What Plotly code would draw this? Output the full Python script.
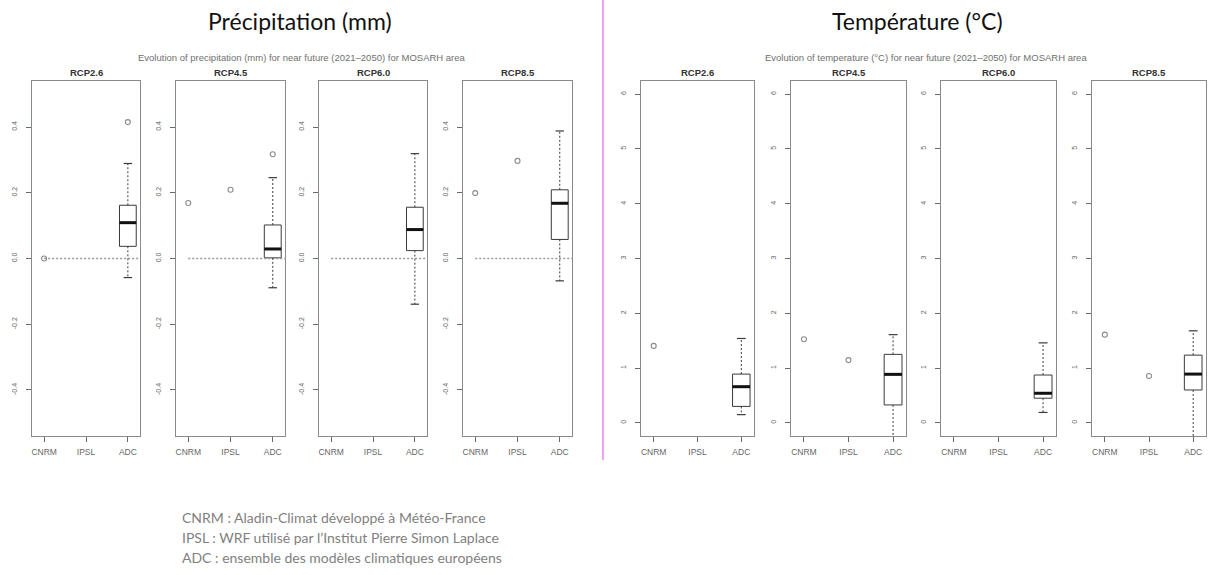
import plotly.graph_objects as go

# ---------------------------------------------------------------- data
models = ["CNRM", "IPSL", "ADC"]
scenarios = ["RCP2.6", "RCP4.5", "RCP6.0", "RCP8.5"]

# Precipitation change (mm), near future 2021-2050
precip_cnrm = [0.0, 0.169, None, 0.199]
precip_ipsl = [None, 0.209, None, 0.297]
precip_adc_low = [-0.058, -0.089, -0.139, -0.068]
precip_adc_q1 = [0.037, 0.002, 0.024, 0.058]
precip_adc_med = [0.109, 0.029, 0.088, 0.168]
precip_adc_q3 = [0.162, 0.102, 0.156, 0.209]
precip_adc_high = [0.289, 0.246, 0.319, 0.388]
precip_adc_out = [[0.415], [0.317], [], []]
precip_ticks = [-0.4, -0.2, 0.0, 0.2, 0.4]
precip_ticktext = ["-0.4", "-0.2", "0.0", "0.2", "0.4"]
precip_ref = 0.0

# Temperature change (°C), near future 2021-2050
temp_cnrm = [1.405, 1.527, None, 1.61]
temp_ipsl = [None, 1.145, None, 0.855]
temp_adc_low = [0.15, -0.35, 0.19, -0.35]
temp_adc_q1 = [0.30, 0.327, 0.45, 0.60]
temp_adc_med = [0.66, 0.885, 0.54, 0.89]
temp_adc_q3 = [0.89, 1.25, 0.873, 1.236]
temp_adc_high = [1.54, 1.61, 1.46, 1.68]
temp_adc_out = [[], [], [], []]
temp_ticks = [0, 1, 2, 3, 4, 5, 6]
temp_ticktext = ["0", "1", "2", "3", "4", "5", "6"]

legend_lines = [
    "CNRM : Aladin-Climat développé à Météo-France",
    "IPSL : WRF utilisé par l’Institut Pierre Simon Laplace",
    "ADC : ensemble des modèles climatiques européens",
]

# ---------------------------------------------------------------- layout
W, H = 1209, 575
panel_px = [(32, 140), (176, 285), (319, 427), (463, 572),
            (641, 754), (791, 906), (941, 1056), (1092, 1206)]
TOP, BOTTOM = 81, 436
BOX_HALF = 0.2
CAP_HALF = 0.1
X_RANGE = [0.71, 3.29]

FRAME = "#8a8a8a"
INK = "#3a3a3a"
PT = "#8c8c8c"

fig = go.Figure()


def add_panel(idx, cnrm, ipsl, low, q1, med, q3, high, outs, ticks, ticktext,
              yrange, ref=None):
    n = idx + 1
    xa = "x" if n == 1 else f"x{n}"
    ya = "y" if n == 1 else f"y{n}"
    pos = {m: i + 1 for i, m in enumerate(models)}
    k = idx % 4

    if ref is not None:
        fig.add_trace(go.Scatter(
            x=[pos["CNRM"], X_RANGE[1] + 1], y=[ref, ref], mode="lines",
            line=dict(color="#9a9a9a", width=1.6, dash="2px,2px"),
            xaxis=xa, yaxis=ya, hoverinfo="skip"))

    # ADC ensemble box (no whiskers; drawn dashed below)
    fig.add_trace(go.Box(
        x=[pos["ADC"]], q1=[q1[k]], median=[med[k]], q3=[q3[k]],
        lowerfence=[q1[k]], upperfence=[q3[k]], width=2 * BOX_HALF,
        whiskerwidth=0, fillcolor="white", line=dict(color=INK, width=1),
        boxpoints=False, xaxis=xa, yaxis=ya, hoverinfo="skip"))
    # dashed whiskers
    for a, b in ((q3[k], high[k]), (q1[k], low[k])):
        fig.add_trace(go.Scatter(
            x=[pos["ADC"], pos["ADC"]], y=[a, b], mode="lines",
            line=dict(color=INK, width=1, dash="2px,2px"),
            xaxis=xa, yaxis=ya, hoverinfo="skip"))
    # whisker caps
    for v in (high[k], low[k]):
        fig.add_trace(go.Scatter(
            x=[pos["ADC"] - CAP_HALF, pos["ADC"] + CAP_HALF], y=[v, v],
            mode="lines", line=dict(color=INK, width=1.2),
            xaxis=xa, yaxis=ya, hoverinfo="skip"))
    # thick median
    fig.add_trace(go.Scatter(
        x=[pos["ADC"] - BOX_HALF, pos["ADC"] + BOX_HALF], y=[med[k], med[k]],
        mode="lines", line=dict(color="#111111", width=3),
        xaxis=xa, yaxis=ya, hoverinfo="skip"))
    # outliers and single-model values
    px_, py_ = [], []
    for v in outs[k]:
        px_.append(pos["ADC"]); py_.append(v)
    if cnrm[k] is not None:
        px_.append(pos["CNRM"]); py_.append(cnrm[k])
    if ipsl[k] is not None:
        px_.append(pos["IPSL"]); py_.append(ipsl[k])
    if px_:
        fig.add_trace(go.Scatter(
            x=px_, y=py_, mode="markers",
            marker=dict(symbol="circle-open", size=5, color=PT,
                        line=dict(width=1.1, color=PT)),
            xaxis=xa, yaxis=ya, hoverinfo="skip", cliponaxis=False))

    x0, x1 = panel_px[idx]
    axis_common = dict(showline=True, linecolor=FRAME, linewidth=1.3,
                       mirror=True, showgrid=False, zeroline=False,
                       ticks="outside", tickcolor="#6a6a6a", ticklen=5)
    fig.update_layout({
        ("xaxis" if n == 1 else f"xaxis{n}"): dict(
            domain=[x0 / W, x1 / W], anchor=ya, range=X_RANGE,
            tickvals=[pos[m] for m in models], ticktext=models,
            ticklabelstandoff=3,
            tickfont=dict(family="Liberation Sans", size=8.5, color="#666666"),
            **axis_common),
        ("yaxis" if n == 1 else f"yaxis{n}"): dict(
            domain=[1 - BOTTOM / H, 1 - TOP / H], anchor=xa, range=yrange,
            tickvals=ticks, ticktext=ticktext, tickangle=-90,
            ticklabelstandoff=6,
            tickfont=dict(family="Liberation Sans", size=7, color="#666666"),
            **axis_common),
    })
    fig.add_annotation(
        x=(x0 + x1) / 2 / W, y=1 - 73 / H, xref="paper", yref="paper",
        xanchor="center", yanchor="middle",
        text=f"<b>{scenarios[k]}</b>", showarrow=False,
        font=dict(family="Liberation Sans", size=9.5, color="#333333"))


for i in range(4):
    add_panel(i, precip_cnrm, precip_ipsl, precip_adc_low, precip_adc_q1,
              precip_adc_med, precip_adc_q3, precip_adc_high, precip_adc_out,
              precip_ticks, precip_ticktext, [-0.54, 0.54], ref=precip_ref)
for i in range(4):
    add_panel(i + 4, temp_cnrm, temp_ipsl, temp_adc_low, temp_adc_q1,
              temp_adc_med, temp_adc_q3, temp_adc_high, temp_adc_out,
              temp_ticks, temp_ticktext, [-0.24, 6.24])

# headings
for txt, xc in (("Précipitation (mm)", 300), ("Température (°C)", 917)):
    fig.add_annotation(x=xc / W, y=1 - 21 / H, xref="paper", yref="paper",
                       xanchor="center", yanchor="middle",
                       text=txt, showarrow=False,
                       font=dict(family="Lato", size=23, color="#111111"))
for txt, xc in (
        ("Evolution of precipitation (mm) for near future (2021–2050) for MOSARH area", 302),
        ("Evolution of temperature (°C) for near future (2021–2050) for MOSARH area", 926)):
    fig.add_annotation(x=xc / W, y=1 - 57 / H, xref="paper", yref="paper",
                       xanchor="center", yanchor="middle",
                       text=txt, showarrow=False,
                       font=dict(family="Liberation Sans", size=9.5, color="#707070"))

# separator between the two groups
fig.add_shape(type="line", xref="paper", yref="paper",
              x0=603 / W, x1=603 / W, y0=1, y1=1 - 460 / H,
              line=dict(color="#ee82ee", width=1.5))

# model key
for j, line in enumerate(legend_lines):
    fig.add_annotation(x=180 / W, y=1 - (517 + 20 * j) / H, xref="paper",
                       yref="paper", xanchor="left", yanchor="middle",
                       text=line, showarrow=False,
                       font=dict(family="Lato", size=14, color="#7f7f7f"))

fig.update_layout(width=W, height=H, margin=dict(l=0, r=0, t=0, b=0),
                  paper_bgcolor="white", plot_bgcolor="white",
                  showlegend=False)
fig.write_html("out.html")
